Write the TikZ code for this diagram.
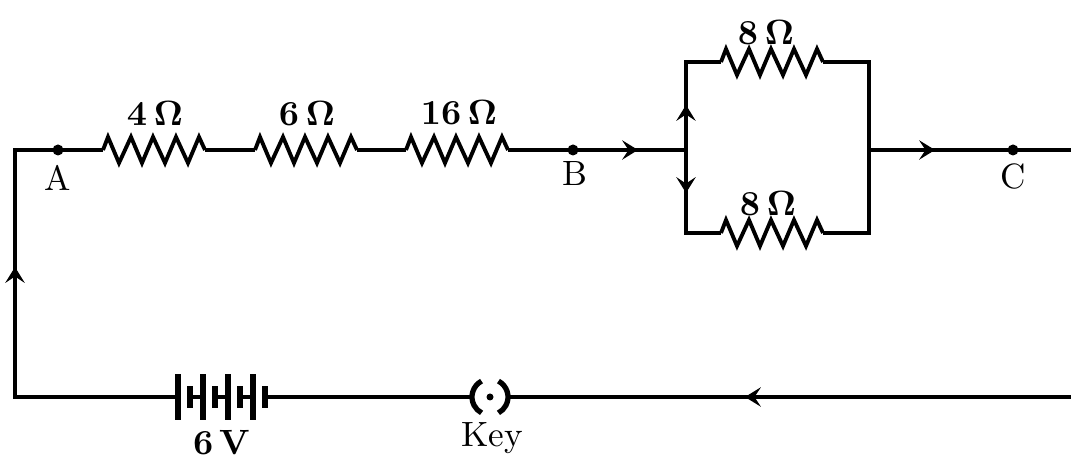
\documentclass[tikz,border=0pt]{standalone}
\usepackage{amsmath}
\usepackage{amssymb}
\usetikzlibrary{arrows.meta}

\begin{document}
\begin{tikzpicture}

	\tikzstyle wire lines=[line width=1.2pt, line join=miter];
	\tikzstyle resistor lines=[line width=1.1pt, line join=miter];
	\tikzstyle plate lines=[line width=1.5pt];
	\tikzstyle flow=[wire lines, -{Stealth[length=4.5pt,width=5.5pt,inset=1.8pt]}];
	\tikzstyle value text=[font=\bfseries\boldmath, inner sep=0pt];
	\tikzstyle point text=[inner sep=0pt];

	\useasboundingbox (0,0) rectangle (10.71,4.57);

	% corners and junctions
	\coordinate (TL) at (0.15,3.07);
	\coordinate (BL) at (0.15,0.60);
	\coordinate (A) at (0.58,3.07);
	\coordinate (B) at (5.73,3.07);
	\coordinate (J1) at (6.86,3.07);
	\coordinate (J1t) at (6.86,3.95);
	\coordinate (J1b) at (6.86,2.24);
	\coordinate (J2) at (8.69,3.07);
	\coordinate (J2t) at (8.69,3.95);
	\coordinate (J2b) at (8.69,2.24);
	\coordinate (C) at (10.13,3.07);
	\coordinate (TR) at (10.71,3.07);
	\coordinate (BR) at (10.71,0.60);
	\coordinate (bat-in) at (1.78,0.60);
	\coordinate (bat-out) at (2.65,0.60);
	\coordinate (key) at (4.90,0.60);
	\coordinate (key-in) at (4.72,0.60);
	\coordinate (key-out) at (5.08,0.60);

	% arrow tips
	\coordinate (up) at (0.15,1.90);
	\coordinate (f1) at (6.38,3.07);
	\coordinate (f2) at (9.35,3.07);
	\coordinate (fu) at (6.86,3.52);
	\coordinate (fd) at (6.86,2.64);
	\coordinate (fb) at (7.45,0.60);

	% resistors
	\foreach \n/\x/\y in {r4/1.03/3.07,r6/2.55/3.07,r16/4.06/3.07,rt/7.21/3.95,rb/7.21/2.24}
	{
		\coordinate (\n-in) at (\x,\y);
		\coordinate (\n-out) at ([xshift=1.02cm]\n-in);
		\draw[resistor lines,shift={(\x,\y)}] (0,0) -- (.05,.13) -- (.16,-.13) -- (.28,.13) -- (.39,-.13)
			-- (.50,.13) -- (.62,-.13) -- (.73,.13) -- (.85,-.13) -- (.96,.13) -- (1.02,0);
	}

	% battery
	\foreach \x in {0,.25,.50,.75}
	{
		\draw[plate lines,xshift=\x cm] (1.78,0.37) -- (1.78,0.83);
		\draw[plate lines,xshift=\x cm] (1.90,0.49) -- (1.90,0.71);
	}
	\foreach \x in {0,.25,.50}
		\draw[wire lines,xshift=\x cm] (1.90,0.60) -- (2.03,0.60);

	% key
	\draw[plate lines] (key) ++(118:.18) arc (118:242:.18);
	\draw[plate lines] (key) ++(62:.18) arc (62:-62:.18);
	\fill (key) circle (.035);

	% wires
	\draw[wire lines] (bat-in) -- (BL) -- (TL) -- (A) -- (r4-in);
	\draw[wire lines] (r4-out) -- (r6-in);
	\draw[wire lines] (r6-out) -- (r16-in);
	\draw[wire lines] (r16-out) -- (B) -- (J1);
	\draw[wire lines] (rt-in) -- (J1t) -- (J1b) -- (rb-in);
	\draw[wire lines] (rt-out) -- (J2t) -- (J2b) -- (rb-out);
	\draw[wire lines] (J2) -- (C) -- (TR);
	\draw[wire lines] (BR) -- (key-out);
	\draw[wire lines] (key-in) -- (bat-out);

	% current arrows
	\draw[flow] (BL) -- (up);
	\draw[flow] (B) -- (f1);
	\draw[flow] (J1) -- (fu);
	\draw[flow] (J1) -- (fd);
	\draw[flow] (J2) -- (f2);
	\draw[flow] (BR) -- (fb);

	% points
	\foreach \p in {A,B,C}
		\fill (\p) circle (.055);
	\node[point text] (A-text) at (0.58,2.79) {A};
	\node[point text] (B-text) at (5.75,2.83) {B};
	\node[point text] (C-text) at (10.13,2.80) {C};

	% values
	\node[value text] (r4-text) at (1.55,3.44) {$4\,\Omega$};
	\node[value text] (r6-text) at (3.07,3.44) {$6\,\Omega$};
	\node[value text] (r16-text) at (4.59,3.45) {$16\,\Omega$};
	\node[value text] (rt-text) at (7.66,4.25) {$8\,\Omega$};
	\node[value text] (rb-text) at (7.68,2.54) {$8\,\Omega$};
	\node[value text] (bat-text) at (2.22,0.14) {6\,V};
	\node[point text] (key-text) at (4.92,0.19) {Key};

\end{tikzpicture}
\end{document}
